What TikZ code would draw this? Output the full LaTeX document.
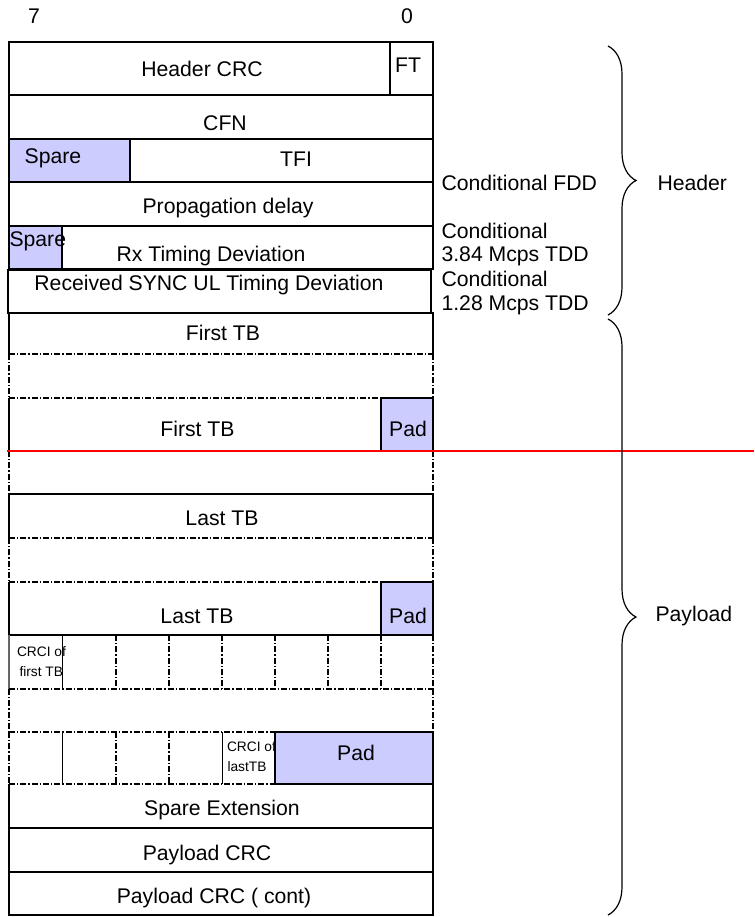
\documentclass[tikz,border=0pt]{standalone}
\usepackage{fontspec}
\setmainfont{Liberation Sans}
\usetikzlibrary{decorations.pathreplacing}
\definecolor{padfill}{RGB}{204,204,255}
\begin{document}
\begin{tikzpicture}[x=0.75pt,y=-0.75pt,
  line width=0.8pt,
  box/.style={draw=black},
  dd/.style={draw=black,dash pattern=on 4.5pt off 1.5pt on 1pt off 1.5pt},
  padbox/.style={draw=black,fill=padfill},
  lbl/.style={inner sep=0pt,anchor=base,font=\fontsize{15.9pt}{19pt}\selectfont},
  lblw/.style={inner sep=0pt,anchor=base west,font=\fontsize{15.9pt}{19pt}\selectfont},
  small/.style={inner sep=0pt,anchor=base west,font=\fontsize{10.3pt}{12pt}\selectfont},
  bracestyle/.style={draw=black,line width=0.9pt,decorate,decoration={brace,amplitude=21pt}}]
\useasboundingbox (0,0) rectangle (754,917);

% bit numbers
\node[lbl] (b7) at (34,23.3) {7};
\node[lbl] (b0) at (407,23.3) {0};

% header rows
\draw[box] (9,42) rectangle (433,95);
\draw[box] (390,42) -- (390,95);
\draw[box] (9,95) rectangle (433,139);
\draw[padbox] (9,139) rectangle (130,182);
\draw[box] (9,139) rectangle (433,182);
\draw[box] (9,182) rectangle (433,226);
\draw[padbox] (9,226) rectangle (62,269);
\draw[box] (9,226) rectangle (433,269);
\draw[box] (8,270) rectangle (431,313);

% First TB
\draw[box] (9,354) -- (9,313) -- (433,313) -- (433,354);
\draw[dd] (9,354) -- (433,354);
\draw[dd] (9,354) -- (9,398);
\draw[dd] (433,354) -- (433,398);
\draw[dd] (9,398) -- (433,398);
\draw[box] (9,398) -- (9,451);
\draw[box] (433,398) -- (433,451);
\draw[padbox] (381,398) rectangle (433,451);
\draw[dd] (9,451) -- (433,451);
\draw[dd] (9,451) -- (9,494);
\draw[dd] (433,451) -- (433,494);

% Last TB
\draw[box] (9,538) -- (9,494) -- (433,494) -- (433,538);
\draw[dd] (9,538) -- (433,538);
\draw[dd] (9,538) -- (9,582);
\draw[dd] (433,538) -- (433,582);
\draw[dd] (9,582) -- (433,582);
\draw[box] (9,582) -- (9,635) -- (433,635) -- (433,582);
\draw[padbox] (381,582) rectangle (433,635);

% CRCI rows
\draw[box,draw=black!60] (9,635) -- (9,689);
\draw[box,line width=0.5pt] (62,635) -- (62,689);
\foreach \x in {116,169,222,275,328,381,433} {\draw[dd] (\x,635) -- (\x,689);}
\draw[dd] (9,689) -- (433,689);
\draw[dd] (9,689) -- (9,732);
\draw[dd] (433,689) -- (433,732);
\draw[dd] (9,732) -- (433,732);
\draw[dd] (9,732) -- (9,784);
\draw[box,line width=0.5pt] (62,732) -- (62,784);
\foreach \x in {116,169} {\draw[dd] (\x,732) -- (\x,784);}
\draw[box,line width=0.5pt] (222,732) -- (222,784);
\draw[dd] (9,784) -- (275,784);
\draw[padbox] (275,732) rectangle (433,784);

% trailer rows
\draw[box] (9,784) -- (9,828) -- (433,828) -- (433,784);
\draw[box] (9,828) rectangle (433,872);
\draw[box] (9,872) rectangle (433,915);

% labels in the frame
\node[lbl] (hcrc) at (202,76.7) {Header CRC};
\node[lbl] (ft) at (408,73) {FT};
\node[lbl] (cfn) at (225,130) {CFN};
\node[lbl] (spare1) at (53,163) {Spare};
\node[lbl] (tfi) at (296,166.7) {TFI};
\node[lbl] (prop) at (228,213.3) {Propagation delay};
\node[lblw] (spare2) at (9,246) {Spare};
\node[lbl] (rxtd) at (211,261.7) {Rx Timing Deviation};
\node[lbl] (sync) at (209,290) {Received SYNC UL Timing Deviation};
\node[lbl] (ftb1) at (223,340) {First TB};
\node[lbl] (ftb2) at (197.5,436.7) {First TB};
\node[lbl] (pad1) at (408,436.7) {Pad};
\node[lbl] (ltb1) at (222,525) {Last TB};
\node[lbl] (ltb2) at (197,623.3) {Last TB};
\node[lbl] (pad2) at (408,623.3) {Pad};
\node[small] (crci1a) at (16.5,656.7) {CRCI of};
\node[small] (crci1b) at (19,676.7) {first TB};
\node[small] (crci2a) at (226.5,751.7) {CRCI of};
\node[small] (crci2b) at (227,771.7) {lastTB};
\node[lbl] (pad3) at (356,760) {Pad};
\node[lbl] (spext) at (222,815) {Spare Extension};
\node[lbl] (pcrc) at (207,860) {Payload CRC};
\node[lbl] (pcrc2) at (214,903.3) {Payload CRC ( cont)};

% red line
\coordinate (redA) at (7,451);
\coordinate (redB) at (754,451);
\draw[red,line width=1.1pt] (redA) -- (redB);

% side notes
\node[lblw] (cfdd) at (441,190) {Conditional FDD};
\node[lblw] (c384a) at (441,238.3) {Conditional};
\node[lblw] (c384b) at (441,261.7) {3.84 Mcps TDD};
\node[lblw] (c128a) at (441,286.7) {Conditional};
\node[lblw] (c128b) at (441,310) {1.28 Mcps TDD};

% braces
\coordinate (hbA) at (608,46);
\coordinate (hbB) at (608,315);
\coordinate (pbA) at (608,319);
\coordinate (pbB) at (608,915);
\draw[bracestyle] (hbA) -- (hbB);
\draw[bracestyle] (pbA) -- (pbB);
\node[lblw] (hdr) at (657,190) {Header};
\node[lblw] (pl) at (655,621.7) {Payload};
\end{tikzpicture}
\end{document}
